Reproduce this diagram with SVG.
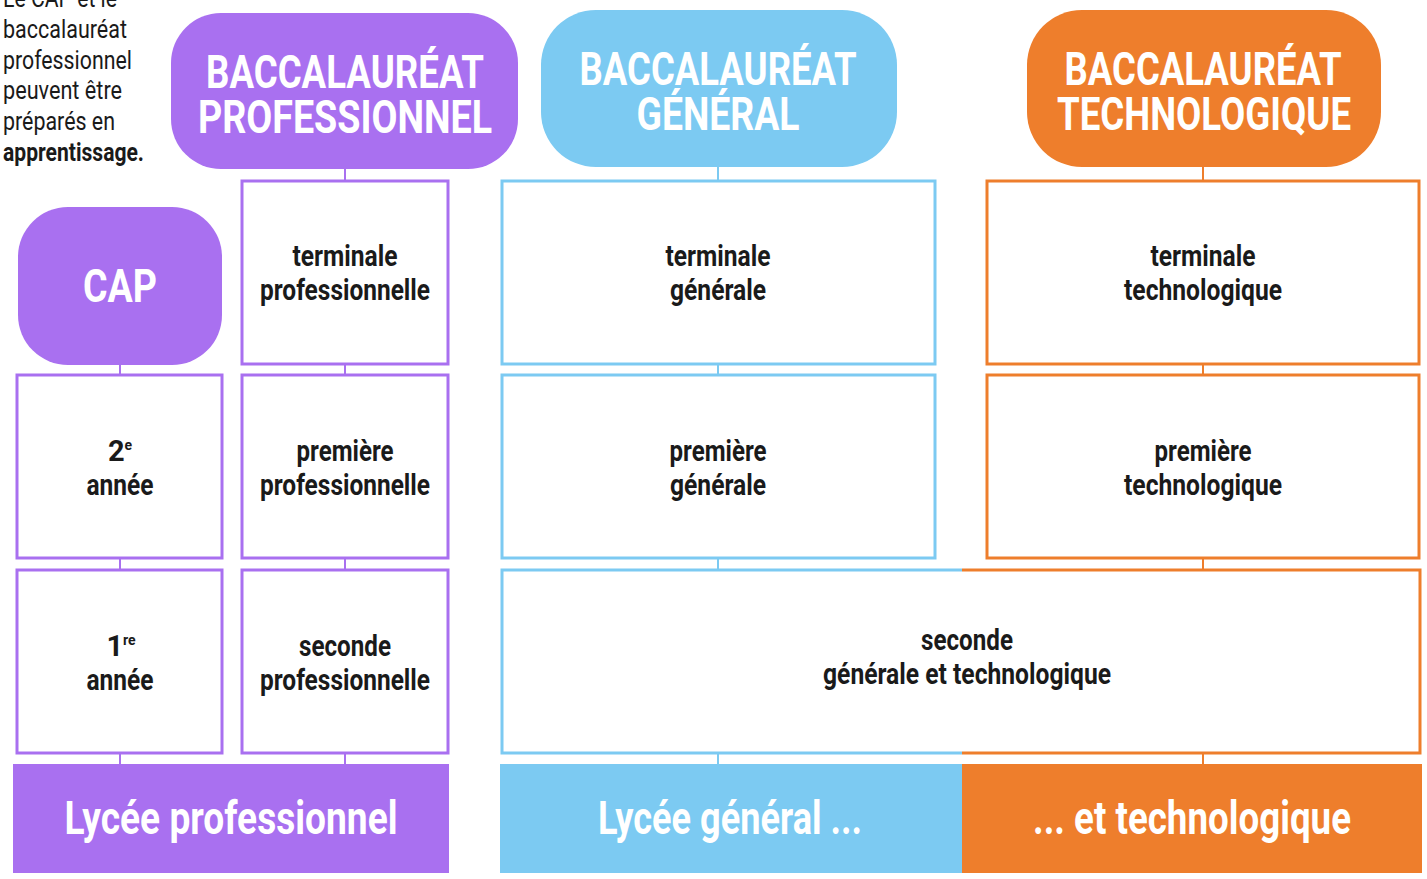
<svg xmlns="http://www.w3.org/2000/svg" width="1427" height="879" viewBox="0 0 1427 879">
<style>
.bg{fill:#ffffff}
.box{fill:#ffffff;stroke-width:3}
.p{stroke:#a970f0}
.b{stroke:#7ccaf2}
.o{stroke:#ee7e2c}
.fp{fill:#a970f0}
.fb{fill:#7ccaf2}
.fo{fill:#ee7e2c}
.con line{stroke-width:2}
.t{font-family:Roboto,"Liberation Sans",sans-serif;font-weight:bold;font-size:29px;fill:#1a1a1a;text-anchor:middle}
.h{font-family:Roboto,"DejaVu Sans",sans-serif;font-weight:bold;font-size:46px;fill:#ffffff;text-anchor:middle}
.w{font-family:Roboto,"Liberation Sans",sans-serif;font-weight:bold;font-size:46px;fill:#ffffff;text-anchor:middle}
.n{font-family:Roboto,"Liberation Sans",sans-serif;font-size:25px;fill:#1a1a1a}
.sup{font-size:14px}
</style>
<rect class="bg" x="0" y="0" width="1427" height="879"/>

<g id="note">
<text class="n" x="3" y="7" textLength="114" lengthAdjust="spacingAndGlyphs">Le CAP et le</text>
<text class="n" x="3" y="38" textLength="124" lengthAdjust="spacingAndGlyphs">baccalauréat</text>
<text class="n" x="3" y="69" textLength="129" lengthAdjust="spacingAndGlyphs">professionnel</text>
<text class="n" x="3" y="99" textLength="119" lengthAdjust="spacingAndGlyphs">peuvent être</text>
<text class="n" x="3" y="130" textLength="112" lengthAdjust="spacingAndGlyphs">préparés en</text>
<text class="n" x="3" y="161" font-weight="bold" textLength="141" lengthAdjust="spacingAndGlyphs">apprentissage.</text>
</g>

<g id="connectors" class="con">
<line class="p" x1="345" y1="168" x2="345" y2="180"/>
<line class="p" x1="345" y1="364" x2="345" y2="375"/>
<line class="p" x1="345" y1="558" x2="345" y2="570"/>
<line class="p" x1="345" y1="753" x2="345" y2="764"/>
<line class="p" x1="120" y1="364" x2="120" y2="375"/>
<line class="p" x1="120" y1="558" x2="120" y2="570"/>
<line class="p" x1="120" y1="753" x2="120" y2="764"/>
<line class="b" x1="718" y1="166" x2="718" y2="180"/>
<line class="b" x1="718" y1="364" x2="718" y2="375"/>
<line class="b" x1="718" y1="558" x2="718" y2="570"/>
<line class="b" x1="718" y1="753" x2="718" y2="764"/>
<line class="o" x1="1203" y1="166" x2="1203" y2="180"/>
<line class="o" x1="1203" y1="364" x2="1203" y2="375"/>
<line class="o" x1="1203" y1="558" x2="1203" y2="570"/>
<line class="o" x1="1203" y1="753" x2="1203" y2="764"/>
</g>

<g id="bac-pro">
<rect class="fp" x="171" y="13" width="347" height="156" rx="50"/>
<text class="h" x="345" y="88" textLength="278" lengthAdjust="spacingAndGlyphs">BACCALAURÉAT</text>
<text class="h" x="345" y="133" textLength="294" lengthAdjust="spacingAndGlyphs">PROFESSIONNEL</text>
</g>
<g id="bac-gen">
<rect class="fb" x="541" y="10" width="356" height="157" rx="55"/>
<text class="h" x="718" y="85" textLength="277" lengthAdjust="spacingAndGlyphs">BACCALAURÉAT</text>
<text class="h" x="718" y="130" textLength="163" lengthAdjust="spacingAndGlyphs">GÉNÉRAL</text>
</g>
<g id="bac-techno">
<rect class="fo" x="1027" y="10" width="354" height="157" rx="55"/>
<text class="h" x="1203" y="85" textLength="277" lengthAdjust="spacingAndGlyphs">BACCALAURÉAT</text>
<text class="h" x="1204" y="130" textLength="294" lengthAdjust="spacingAndGlyphs">TECHNOLOGIQUE</text>
</g>
<g id="cap">
<rect class="fp" x="18" y="207" width="204" height="158" rx="50"/>
<text class="h" x="120" y="302" font-size="42" textLength="74" lengthAdjust="spacingAndGlyphs">CAP</text>
</g>

<g id="terminale-pro">
<rect class="box p" x="242" y="181" width="206" height="183"/>
<text class="t" x="345" y="266" textLength="105" lengthAdjust="spacingAndGlyphs">terminale</text>
<text class="t" x="345" y="300" textLength="170" lengthAdjust="spacingAndGlyphs">professionnelle</text>
</g>
<g id="premiere-pro">
<rect class="box p" x="242" y="375" width="206" height="183"/>
<text class="t" x="345" y="461" textLength="97" lengthAdjust="spacingAndGlyphs">première</text>
<text class="t" x="345" y="495" textLength="170" lengthAdjust="spacingAndGlyphs">professionnelle</text>
</g>
<g id="seconde-pro">
<rect class="box p" x="242" y="570" width="206" height="183"/>
<text class="t" x="345" y="656" textLength="92" lengthAdjust="spacingAndGlyphs">seconde</text>
<text class="t" x="345" y="690" textLength="170" lengthAdjust="spacingAndGlyphs">professionnelle</text>
</g>
<g id="cap-2">
<rect class="box p" x="17" y="375" width="205" height="183"/>
<text class="t" x="120" y="461">2<tspan class="sup" dy="-11">e</tspan></text>
<text class="t" x="120" y="495" textLength="67" lengthAdjust="spacingAndGlyphs">année</text>
</g>
<g id="cap-1">
<rect class="box p" x="17" y="570" width="205" height="183"/>
<text class="t" x="121" y="656">1<tspan class="sup" dy="-11">re</tspan></text>
<text class="t" x="120" y="690" textLength="67" lengthAdjust="spacingAndGlyphs">année</text>
</g>

<g id="terminale-gen">
<rect class="box b" x="502" y="181" width="433" height="183"/>
<text class="t" x="718" y="266" textLength="105" lengthAdjust="spacingAndGlyphs">terminale</text>
<text class="t" x="718" y="300" textLength="96" lengthAdjust="spacingAndGlyphs">générale</text>
</g>
<g id="premiere-gen">
<rect class="box b" x="502" y="375" width="433" height="183"/>
<text class="t" x="718" y="461" textLength="97" lengthAdjust="spacingAndGlyphs">première</text>
<text class="t" x="718" y="495" textLength="96" lengthAdjust="spacingAndGlyphs">générale</text>
</g>
<g id="terminale-techno">
<rect class="box o" x="987" y="181" width="432" height="183"/>
<text class="t" x="1203" y="266" textLength="105" lengthAdjust="spacingAndGlyphs">terminale</text>
<text class="t" x="1203" y="300" textLength="158" lengthAdjust="spacingAndGlyphs">technologique</text>
</g>
<g id="premiere-techno">
<rect class="box o" x="987" y="375" width="432" height="183"/>
<text class="t" x="1203" y="461" textLength="97" lengthAdjust="spacingAndGlyphs">première</text>
<text class="t" x="1203" y="495" textLength="158" lengthAdjust="spacingAndGlyphs">technologique</text>
</g>
<g id="seconde-gt">
<rect x="502" y="570" width="918" height="183" fill="#ffffff"/>
<path d="M962 570 H502 V753 H962" fill="none" stroke="#7ccaf2" stroke-width="3"/>
<path d="M962 570 H1420 V753 H962" fill="none" stroke="#ee7e2c" stroke-width="3"/>
<text class="t" x="967" y="650" textLength="92" lengthAdjust="spacingAndGlyphs">seconde</text>
<text class="t" x="967" y="684" textLength="288" lengthAdjust="spacingAndGlyphs">générale et technologique</text>
</g>

<g id="lycee-pro">
<rect class="fp" x="13" y="764" width="436" height="109"/>
<text class="w" x="231" y="834" textLength="333" lengthAdjust="spacingAndGlyphs">Lycée professionnel</text>
</g>
<g id="lycee-gen">
<rect class="fb" x="500" y="764" width="462" height="109"/>
<text class="w" x="730" y="834" textLength="264" lengthAdjust="spacingAndGlyphs">Lycée général ...</text>
</g>
<g id="lycee-techno">
<rect class="fo" x="962" y="764" width="460" height="109"/>
<text class="w" x="1192" y="834" textLength="318" lengthAdjust="spacingAndGlyphs">... et technologique</text>
</g>
</svg>
